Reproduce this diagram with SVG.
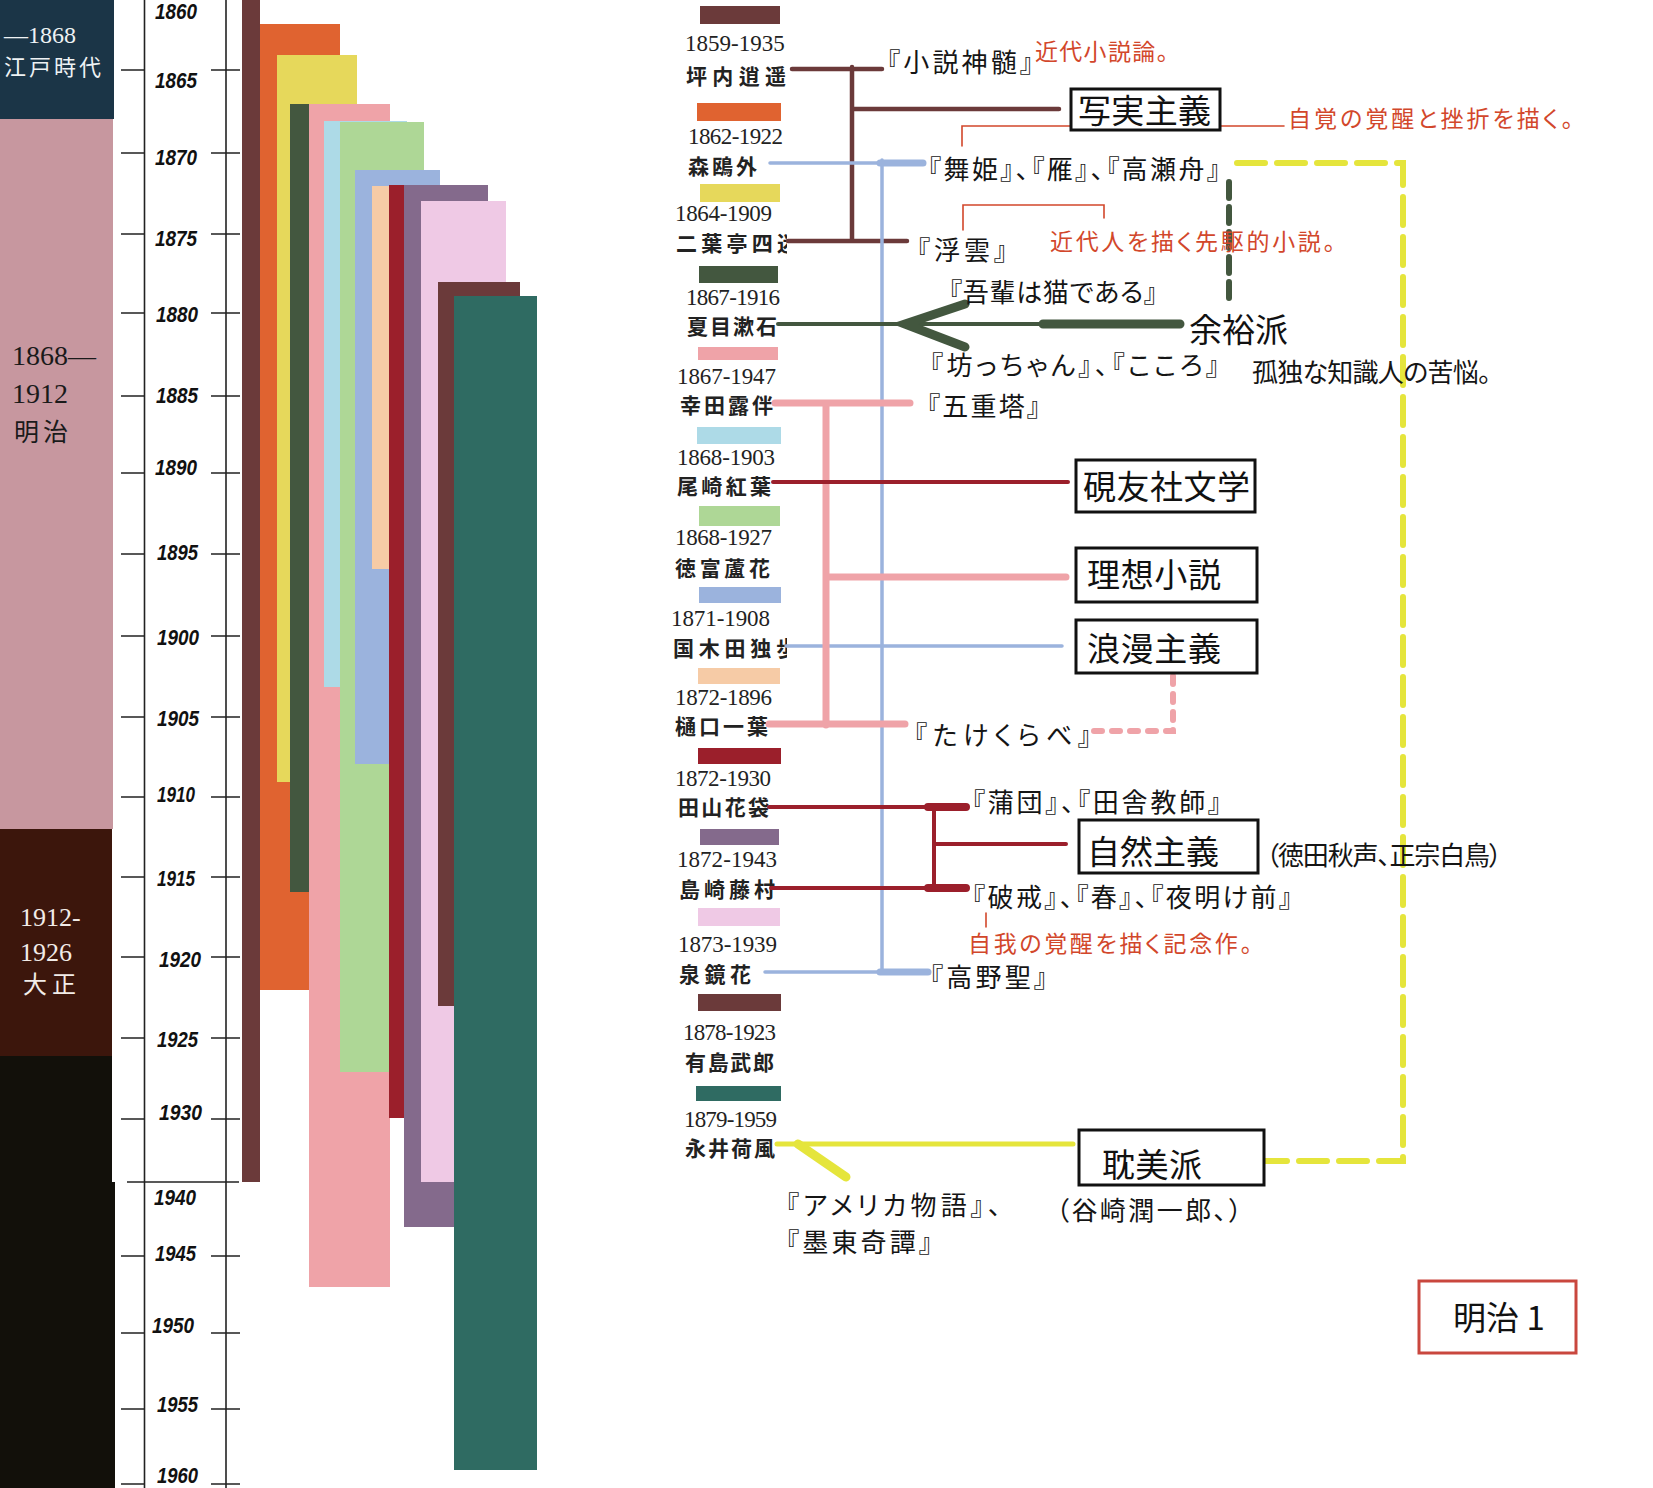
<svg xmlns="http://www.w3.org/2000/svg" width="1653" height="1488" viewBox="0 0 1653 1488">
<defs>
<style>
.yr{font-family:"Liberation Sans",sans-serif;font-weight:bold;font-style:italic;font-size:22px;fill:#111;dominant-baseline:central}
.ly{font-family:"Liberation Serif",serif;font-size:23px;fill:#222;dominant-baseline:central}
.ln{font-family:"Noto Sans CJK JP",sans-serif;font-weight:bold;font-size:21px;fill:#222;dominant-baseline:central}
.t{font-family:"Noto Sans CJK JP",sans-serif;font-size:26px;fill:#151515;dominant-baseline:central;font-feature-settings:"palt"}
.big{font-family:"Noto Sans CJK JP",sans-serif;font-size:33px;fill:#111;dominant-baseline:central}
.note{font-family:"Noto Sans CJK JP",sans-serif;font-size:23px;fill:#d2472b;dominant-baseline:central;font-feature-settings:"palt"}
.era{font-family:"Liberation Serif","Noto Sans CJK JP",serif;dominant-baseline:central}
.box{fill:#fff;stroke:#111;stroke-width:3}
.ax{stroke:#222;stroke-width:1.6;fill:none}
.c{fill:none;stroke-linecap:round}
</style>
<clipPath id="legclip"><rect x="600" y="0" width="187" height="1488"/></clipPath>
</defs>
<rect width="1653" height="1488" fill="#fff"/>

<g id="eras">
<rect x="0" y="0" width="114" height="119" fill="#1b3547"/>
<rect x="0" y="119" width="113" height="710" fill="#c7979f"/>
<rect x="0" y="829" width="112" height="227" fill="#3c160c"/>
<rect x="0" y="1056" width="112" height="126" fill="#12100a"/>
<rect x="0" y="1182" width="115" height="306" fill="#12100a"/>
<text class="era" x="4" y="35" font-size="24" fill="#eef2f4">—1868</text>
<text class="era" x="4" y="67" font-size="22" fill="#eef2f4" font-family="Noto Sans CJK JP" letter-spacing="3">江戸時代</text>
<text class="era" x="12" y="355" font-size="28" fill="#1a1a1a">1868—</text>
<text class="era" x="12" y="393" font-size="28" fill="#1a1a1a">1912</text>
<text class="era" x="14" y="432" font-size="25" fill="#1a1a1a" font-family="Noto Sans CJK JP" letter-spacing="4">明治</text>
<text class="era" x="20" y="917" font-size="26" fill="#f2ece8">1912-</text>
<text class="era" x="20" y="952" font-size="26" fill="#f2ece8">1926</text>
<text class="era" x="23" y="985" font-size="24" fill="#f2ece8" font-family="Noto Sans CJK JP" letter-spacing="5">大正</text>
</g>

<g id="axis">
<line class="ax" x1="144.5" y1="0" x2="144.5" y2="1488"/>
<line class="ax" x1="226" y1="0" x2="226" y2="1488"/>
<line class="ax" x1="127" y1="1182" x2="239" y2="1182"/>
<path class="ax" d="M121,70H144M211,70H240M121,153H144M211,153H240M121,234H144M211,234H240M121,313H144M211,313H240M121,396H144M211,396H240M121,473H144M211,473H240M121,554H144M211,554H240M121,636H144M211,636H240M121,717H144M211,717H240M121,797H144M211,797H240M121,877H144M211,877H240M121,957H144M211,957H240M121,1038H144M211,1038H240M121,1119H144M211,1119H240M121,1256H144M211,1256H240M121,1333H144M211,1333H240M121,1409H144M211,1409H240M121,1484H144M211,1484H240"/>
<text class="yr" x="155" y="11" textLength="42" lengthAdjust="spacingAndGlyphs">1860</text>
<text class="yr" x="155" y="80" textLength="42" lengthAdjust="spacingAndGlyphs">1865</text>
<text class="yr" x="155" y="157" textLength="42" lengthAdjust="spacingAndGlyphs">1870</text>
<text class="yr" x="155" y="238" textLength="42" lengthAdjust="spacingAndGlyphs">1875</text>
<text class="yr" x="156" y="314" textLength="42" lengthAdjust="spacingAndGlyphs">1880</text>
<text class="yr" x="156" y="395" textLength="42" lengthAdjust="spacingAndGlyphs">1885</text>
<text class="yr" x="155" y="467" textLength="42" lengthAdjust="spacingAndGlyphs">1890</text>
<text class="yr" x="157" y="552" textLength="41" lengthAdjust="spacingAndGlyphs">1895</text>
<text class="yr" x="157" y="637" textLength="42" lengthAdjust="spacingAndGlyphs">1900</text>
<text class="yr" x="157" y="718" textLength="42" lengthAdjust="spacingAndGlyphs">1905</text>
<text class="yr" x="157" y="794" textLength="38" lengthAdjust="spacingAndGlyphs">1910</text>
<text class="yr" x="157" y="878" textLength="38" lengthAdjust="spacingAndGlyphs">1915</text>
<text class="yr" x="159" y="959" textLength="42" lengthAdjust="spacingAndGlyphs">1920</text>
<text class="yr" x="157" y="1039" textLength="41" lengthAdjust="spacingAndGlyphs">1925</text>
<text class="yr" x="159" y="1112" textLength="43" lengthAdjust="spacingAndGlyphs">1930</text>
<text class="yr" x="154" y="1197" textLength="42" lengthAdjust="spacingAndGlyphs">1940</text>
<text class="yr" x="155" y="1253" textLength="41" lengthAdjust="spacingAndGlyphs">1945</text>
<text class="yr" x="152" y="1325" textLength="42" lengthAdjust="spacingAndGlyphs">1950</text>
<text class="yr" x="157" y="1404" textLength="41" lengthAdjust="spacingAndGlyphs">1955</text>
<text class="yr" x="157" y="1475" textLength="41" lengthAdjust="spacingAndGlyphs">1960</text>
</g>

<g id="lifespans">
<rect x="242" y="0" width="18" height="1182" fill="#6b3a3a"/>
<rect x="260" y="24" width="80" height="966" fill="#e06330"/>
<rect x="277" y="55" width="80" height="727" fill="#e6d85b"/>
<rect x="290" y="104" width="19" height="788" fill="#43573f"/>
<rect x="309" y="104" width="81" height="1183" fill="#efa3a8"/>
<rect x="324" y="121" width="83" height="566" fill="#addae7"/>
<rect x="340" y="122" width="84" height="950" fill="#aed796"/>
<rect x="355" y="170" width="85" height="594" fill="#9bb3dd"/>
<rect x="372" y="186" width="17" height="383" fill="#f6cba6"/>
<rect x="389" y="185" width="15" height="933" fill="#9b1f2b"/>
<rect x="404" y="185" width="84" height="1042" fill="#846a8c"/>
<rect x="421" y="201" width="85" height="981" fill="#efc9e5"/>
<rect x="438" y="282" width="82" height="724" fill="#6b3a3a"/>
<rect x="454" y="296" width="83" height="1174" fill="#2f6b62"/>
</g>

<g id="legend">
<rect x="700" y="6" width="80" height="18" fill="#6b3a3a"/>
<rect x="697" y="103" width="84" height="18" fill="#e06330"/>
<rect x="700" y="184" width="80" height="18" fill="#e6d85b"/>
<rect x="699" y="266" width="79" height="17" fill="#43573f"/>
<rect x="698" y="347" width="80" height="13" fill="#efa3a8"/>
<rect x="697" y="427" width="84" height="17" fill="#addae7"/>
<rect x="699" y="506" width="81" height="20" fill="#aed796"/>
<rect x="699" y="587" width="82" height="16" fill="#9bb3dd"/>
<rect x="698" y="668" width="82" height="16" fill="#f6cba6"/>
<rect x="698" y="748" width="83" height="16" fill="#9b1f2b"/>
<rect x="700" y="829" width="79" height="16" fill="#846a8c"/>
<rect x="698" y="908" width="82" height="18" fill="#efc9e5"/>
<rect x="698" y="994" width="83" height="17" fill="#6b3a3a"/>
<rect x="696" y="1086" width="85" height="15" fill="#2f6b62"/>
<g clip-path="url(#legclip)">
<text class="ly" x="685" y="43">1859-1935</text>
<text class="ly" x="688" y="136" textLength="95" lengthAdjust="spacing">1862-1922</text>
<text class="ly" x="675" y="213" textLength="97" lengthAdjust="spacing">1864-1909</text>
<text class="ly" x="686" y="297" textLength="94" lengthAdjust="spacing">1867-1916</text>
<text class="ly" x="677" y="376" textLength="99" lengthAdjust="spacing">1867-1947</text>
<text class="ly" x="677" y="457" textLength="98" lengthAdjust="spacing">1868-1903</text>
<text class="ly" x="675" y="537" textLength="97" lengthAdjust="spacing">1868-1927</text>
<text class="ly" x="671" y="618" textLength="99" lengthAdjust="spacing">1871-1908</text>
<text class="ly" x="675" y="697" textLength="97" lengthAdjust="spacing">1872-1896</text>
<text class="ly" x="675" y="778" textLength="96" lengthAdjust="spacing">1872-1930</text>
<text class="ly" x="677" y="859" textLength="100" lengthAdjust="spacing">1872-1943</text>
<text class="ly" x="678" y="944" textLength="99" lengthAdjust="spacing">1873-1939</text>
<text class="ly" x="683" y="1032" textLength="93" lengthAdjust="spacing">1878-1923</text>
<text class="ly" x="684" y="1119" textLength="93" lengthAdjust="spacing">1879-1959</text>
<text class="ln" x="686" y="75" textLength="100" lengthAdjust="spacing">坪内逍遥</text>
<text class="ln" x="688" y="165" textLength="69" lengthAdjust="spacing">森鴎外</text>
<text class="ln" x="676" y="242" textLength="122" lengthAdjust="spacing">二葉亭四迷</text>
<text class="ln" x="687" y="325" textLength="90" lengthAdjust="spacing">夏目漱石</text>
<text class="ln" x="680" y="404" textLength="93" lengthAdjust="spacing">幸田露伴</text>
<text class="ln" x="677" y="485" textLength="94" lengthAdjust="spacing">尾崎紅葉</text>
<text class="ln" x="675" y="567" textLength="95" lengthAdjust="spacing">徳富蘆花</text>
<text class="ln" x="673" y="647" textLength="124" lengthAdjust="spacing">国木田独歩</text>
<text class="ln" x="675" y="725" textLength="93" lengthAdjust="spacing">樋口一葉</text>
<text class="ln" x="678" y="806" textLength="91" lengthAdjust="spacing">田山花袋</text>
<text class="ln" x="679" y="888" textLength="96" lengthAdjust="spacing">島崎藤村</text>
<text class="ln" x="679" y="973" textLength="72" lengthAdjust="spacing">泉鏡花</text>
<text class="ln" x="685" y="1061" textLength="89" lengthAdjust="spacing">有島武郎</text>
<text class="ln" x="685" y="1147" textLength="90" lengthAdjust="spacing">永井荷風</text>
</g>
</g>

<g id="connectors">
<path class="c" stroke="#d2472b" stroke-width="1.6" stroke-linecap="butt" d="M962,146V126H1284M963,230V205H1104V218M986,913V927"/>
<path class="c" stroke="#6b3a3a" stroke-width="4.5" d="M792,69H882M852,67V241M852,109H1059M788,241H907"/>
<path class="c" stroke="#9bb3dd" stroke-width="3.5" d="M770,163H923M882,160V973M765,972H928M786,646H1062"/>
<path class="c" stroke="#9bb3dd" stroke-width="7" d="M880,163H923M880,972H928"/>
<path class="c" stroke="#43573f" stroke-width="4" d="M778,324H1043"/>
<path class="c" stroke="#43573f" stroke-width="9" d="M1043,324H1180M965,304L905,324L965,347"/>
<path class="c" stroke="#43573f" stroke-width="6" stroke-linecap="butt" stroke-dasharray="16 9" d="M1229,182V298"/>
<path class="c" stroke="#efa3a8" stroke-width="7" d="M775,403H910M826,403V725M769,724H905M826,577H1066"/>
<path class="c" stroke="#efa3a8" stroke-width="6" stroke-linecap="butt" stroke-dasharray="8 10" d="M1094,731H1173V667"/>
<path class="c" stroke="#9b1f2b" stroke-width="4" d="M773,482H1068M769,807H966M934,807V888M934,844H1066M771,888H966"/>
<path class="c" stroke="#9b1f2b" stroke-width="8" d="M928,807H966M928,888H966"/>
<path class="c" stroke="#e5e53c" stroke-width="5" d="M777,1144H1073"/>
<path class="c" stroke="#e5e53c" stroke-width="9" d="M798,1144L846,1177"/>
<path class="c" stroke="#e5e53c" stroke-width="6" stroke-linecap="butt" stroke-dasharray="28 12" d="M1237,163H1403V1161H1264"/>
</g>

<g id="n-shajitsu"><rect class="box" x="1071" y="89" width="149" height="41"/><text class="big" x="1078" y="109" textLength="133" lengthAdjust="spacing">写実主義</text></g>
<g id="n-kenyusha"><rect class="box" x="1076" y="460" width="179" height="52"/><text class="big" x="1083" y="485" textLength="167" lengthAdjust="spacing">硯友社文学</text></g>
<g id="n-riso"><rect class="box" x="1076" y="548" width="181" height="54"/><text class="big" x="1087" y="573" textLength="134" lengthAdjust="spacing">理想小説</text></g>
<g id="n-roman"><rect class="box" x="1076" y="620" width="181" height="53"/><text class="big" x="1087" y="647" textLength="134" lengthAdjust="spacing">浪漫主義</text></g>
<g id="n-shizen"><rect class="box" x="1079" y="820" width="179" height="53"/><text class="big" x="1087" y="850" textLength="132" lengthAdjust="spacing">自然主義</text></g>
<g id="n-tanbi"><rect class="box" x="1079" y="1130" width="185" height="55"/><text class="big" x="1102" y="1163" textLength="100" lengthAdjust="spacing">耽美派</text></g>
<g id="n-yoyu"><text class="big" x="1189" y="328" textLength="99" lengthAdjust="spacing">余裕派</text></g>
<g id="n-meiji1"><rect x="1419" y="1281" width="157" height="72" fill="#fff" stroke="#c9473e" stroke-width="3"/><text class="big" x="1453" y="1316" font-size="34">明治 1</text></g>

<g id="works">
<text class="t" x="887" y="60" textLength="146" lengthAdjust="spacing">『小説神髄』</text>
<text class="note" x="1035" y="50" font-size="22" textLength="133" lengthAdjust="spacing">近代小説論。</text>
<text class="note" x="1288" y="117" textLength="285" lengthAdjust="spacing">自覚の覚醒と挫折を描く。</text>
<text class="t" x="928" y="167" textLength="292" lengthAdjust="spacing">『舞姫』、『雁』、『高瀬舟』</text>
<text class="t" x="917" y="248" font-size="27" textLength="90" lengthAdjust="spacing">『浮雲』</text>
<text class="note" x="1050" y="240" textLength="285" lengthAdjust="spacing">近代人を描く先駆的小説。</text>
<text class="t" x="949" y="290" font-size="24" textLength="208" lengthAdjust="spacing">『吾輩は猫である』</text>
<text class="t" x="930" y="363" textLength="289" lengthAdjust="spacing">『坊っちゃん』、『こころ』</text>
<text class="t" x="1252" y="370" font-size="23" textLength="239" lengthAdjust="spacing">孤独な知識人の苦悩。</text>
<text class="t" x="927" y="404" textLength="113" lengthAdjust="spacing">『五重塔』</text>
<text class="t" x="914" y="733" textLength="177" lengthAdjust="spacing">『たけくらべ』</text>
<text class="t" x="972" y="800" textLength="249" lengthAdjust="spacing">『蒲団』、『田舎教師』</text>
<text class="t" x="1266" y="853" font-size="22" textLength="236" lengthAdjust="spacing">（徳田秋声、正宗白鳥）</text>
<text class="t" x="972" y="895" textLength="320" lengthAdjust="spacing">『破戒』、『春』、『夜明け前』</text>
<text class="note" x="968" y="942" textLength="284" lengthAdjust="spacing">自我の覚醒を描く記念作。</text>
<text class="t" x="930" y="975" textLength="117" lengthAdjust="spacing">『高野聖』</text>
<text class="t" x="786" y="1203" textLength="215" lengthAdjust="spacing">『アメリカ物語』、</text>
<text class="t" x="786" y="1240" textLength="146" lengthAdjust="spacing">『墨東奇譚』</text>
<text class="t" x="1056" y="1208" font-size="25" textLength="186" lengthAdjust="spacing">（谷崎潤一郎、）</text>
</g>
</svg>
